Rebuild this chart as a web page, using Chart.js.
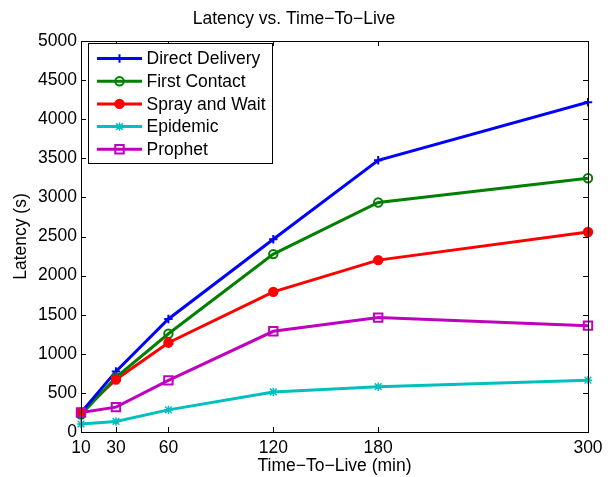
<!DOCTYPE html>
<html>
<head>
<meta charset="utf-8">
<script src="https://cdn.jsdelivr.net/npm/chart.js@4.4.1/dist/chart.umd.min.js"></script>
<style>
  html, body { margin: 0; padding: 0; background: #fff; }
  #wrap { width: 613px; height: 477px; }
</style>
</head>
<body>
<div id="wrap"><canvas id="c" width="613" height="477"></canvas></div>
<script>
const ttl = [10, 30, 60, 120, 180, 300];
const xTicks = [10, 30, 60, 120, 180, 300];
const directDelivery = [250, 775, 1445, 2465, 3475, 4217];
const firstContact = [222, 698, 1256, 2275, 2935, 3245];
const sprayAndWait = [250, 672, 1142, 1792, 2198, 2558];
const epidemic = [102, 135, 283, 512, 579, 663];
const prophet = [250, 318, 660, 1288, 1463, 1360];

const seriesNames = ['Direct Delivery', 'First Contact', 'Spray and Wait', 'Epidemic', 'Prophet'];
const seriesValues = [directDelivery, firstContact, sprayAndWait, epidemic, prophet];
const colors = ['#0000ff', '#008000', '#ff0000', '#00bfbf', '#bf00bf'];
const markers = ['cross', 'circle', 'circle', 'star', 'rect'];
const filled = [false, false, true, false, false];

const FONT = '"Liberation Sans", Arial, Helvetica, sans-serif';
const FS = 17.5;

function drawMarker(ctx, style, x, y, r, color, fill) {
  ctx.save();
  ctx.strokeStyle = color;
  ctx.fillStyle = color;
  ctx.lineWidth = 2;
  ctx.beginPath();
  if (style === 'cross') {
    ctx.moveTo(x - r, y); ctx.lineTo(x + r, y);
    ctx.moveTo(x, y - r); ctx.lineTo(x, y + r);
    ctx.stroke();
  } else if (style === 'circle') {
    ctx.arc(x, y, r, 0, Math.PI * 2);
    if (fill) ctx.fill();
    ctx.stroke();
  } else if (style === 'star') {
    ctx.lineWidth = 1.5;
    const s = r;
    ctx.moveTo(x, y - s); ctx.lineTo(x, y + s);
    const d = s * 0.8;
    ctx.moveTo(x - d, y - d); ctx.lineTo(x + d, y + d);
    ctx.moveTo(x - d, y + d); ctx.lineTo(x + d, y - d);
    ctx.moveTo(x - s, y); ctx.lineTo(x + s, y);
    ctx.stroke();
  } else if (style === 'rect') {
    ctx.rect(x - r, y - r, 2 * r, 2 * r);
    ctx.stroke();
  }
  ctx.restore();
}

const framePlugin = {
  id: 'frame',
  afterDraw(chart) {
    const ctx = chart.ctx;
    const a = chart.chartArea;
    const xs = chart.scales.x, ys = chart.scales.y;
    ctx.save();
    ctx.strokeStyle = '#000';
    ctx.lineWidth = 1;
    ctx.strokeRect(Math.round(a.left) + 0.5, Math.round(a.top) + 0.5, Math.round(a.right - a.left), Math.round(a.bottom - a.top));
    const tl = 5;
    ctx.beginPath();
    xTicks.forEach(v => {
      const px = Math.round(xs.getPixelForValue(v)) + 0.5;
      ctx.moveTo(px, a.bottom); ctx.lineTo(px, a.bottom - tl);
      ctx.moveTo(px, a.top); ctx.lineTo(px, a.top + tl);
    });
    ys.ticks.forEach(t => {
      const py = Math.round(ys.getPixelForValue(t.value)) + 0.5;
      ctx.moveTo(a.left, py); ctx.lineTo(a.left + tl, py);
      ctx.moveTo(a.right, py); ctx.lineTo(a.right - tl, py);
    });
    ctx.stroke();

    // legend
    const bx = 88, by = 43, bw = 184, bh = 120;
    ctx.fillStyle = '#fff';
    ctx.fillRect(bx, by, bw, bh);
    ctx.strokeStyle = '#000';
    ctx.lineWidth = 1;
    ctx.strokeRect(bx + 0.5, by + 0.5, bw, bh);
    ctx.font = FS + 'px ' + FONT;
    ctx.textBaseline = 'middle';
    ctx.textAlign = 'left';
    seriesNames.forEach((name, i) => {
      const y = 58.5 + i * 22.7;
      ctx.strokeStyle = colors[i];
      ctx.lineWidth = 3;
      ctx.beginPath();
      ctx.moveTo(97, y); ctx.lineTo(142, y);
      ctx.stroke();
      drawMarker(ctx, markers[i], 119.5, y, 4.2, colors[i], filled[i]);
      ctx.fillStyle = '#000';
      ctx.fillText(name, 146.5, y + 1);
    });
    ctx.restore();
  }
};

const markerPlugin = {
  id: 'markers',
  afterDatasetsDraw(chart) {
    const ctx = chart.ctx;
    chart.data.datasets.forEach((ds, i) => {
      const meta = chart.getDatasetMeta(i);
      meta.data.forEach(pt => {
        drawMarker(ctx, markers[i], pt.x, pt.y, 4.2, colors[i], filled[i]);
      });
    });
  }
};

const datasets = seriesNames.map((name, i) => ({
  label: name,
  data: ttl.map((t, j) => ({ x: t, y: seriesValues[i][j] })),
  borderColor: colors[i],
  backgroundColor: colors[i],
  borderWidth: 3,
  pointRadius: 0,
  tension: 0,
  fill: false
}));

new Chart(document.getElementById('c'), {
  type: 'line',
  data: { datasets },
  plugins: [markerPlugin, framePlugin],
  options: {
    responsive: false,
    animation: false,
    layout: { padding: { left: 0, right: 25, top: 0, bottom: 0 } },
    plugins: {
      legend: { display: false },
      tooltip: { enabled: false },
      title: {
        display: true,
        text: 'Latency vs. Time\u2212To\u2212Live',
        color: '#000',
        font: { family: FONT, size: FS, weight: 'normal', lineHeight: 1.2 },
        padding: { top: 9, bottom: 11 }
      }
    },
    scales: {
      x: {
        type: 'linear',
        min: 10, max: 300,
        afterBuildTicks(scale) { scale.ticks = xTicks.map(v => ({ value: v })); },
        afterFit(scale) { scale.height = 45; },
        grid: { display: false, drawTicks: false },
        border: { display: true, color: '#000', width: 1 },
        ticks: { color: '#000', font: { family: FONT, size: FS }, padding: 6, maxRotation: 0, autoSkip: false,
                 callback: v => String(v) },
        title: {
          display: true,
          text: 'Time\u2212To\u2212Live (min)',
          color: '#000',
          font: { family: FONT, size: FS, lineHeight: 1.2 },
          padding: { top: 0, bottom: 0 }
        }
      },
      y: {
        min: 0, max: 5000,
        afterFit(scale) { scale.width = 81; },
        grid: { display: false, drawTicks: false },
        border: { display: true, color: '#000', width: 1 },
        ticks: { stepSize: 500, color: '#000', font: { family: FONT, size: FS }, padding: 4,
                 callback: v => String(v) },
        title: {
          display: true,
          text: 'Latency (s)',
          color: '#000',
          font: { family: FONT, size: FS, lineHeight: 1.2 },
          padding: { top: 11, bottom: 0 }
        }
      }
    }
  }
});
</script>
</body>
</html>
